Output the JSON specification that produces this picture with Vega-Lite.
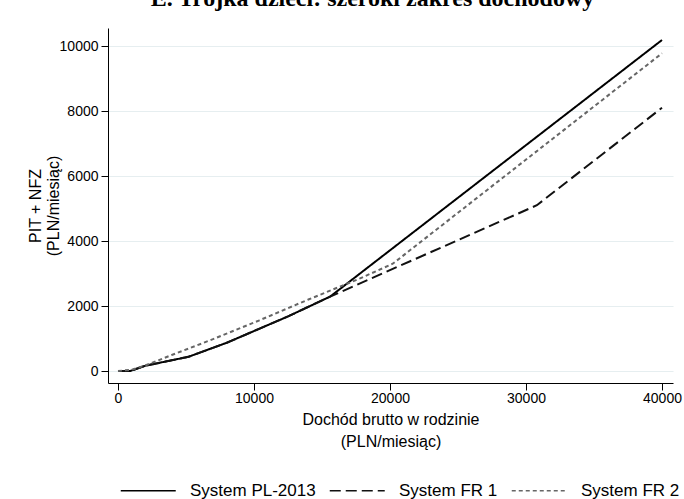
{
  "$schema": "https://vega.github.io/schema/vega-lite/v6.json",
  "autosize": "none",
  "width": 565,
  "height": 355,
  "padding": {"left": 108, "top": 28, "right": 11, "bottom": 116},
  "background": "white",
  "title": {
    "text": "E.  Trójka dzieci: szeroki zakres dochodowy",
    "font": "Liberation Serif",
    "fontSize": 24,
    "fontWeight": "bold",
    "color": "black",
    "anchor": "middle",
    "baseline": "alphabetic",
    "offset": 0,
    "dx": -18,
    "dy": 2
  },
  "config": {
    "view": {"stroke": null},
    "font": "Liberation Sans",
    "axis": {
      "domainColor": "black",
      "tickColor": "black",
      "labelColor": "black",
      "titleColor": "black",
      "labelFont": "Liberation Sans",
      "titleFont": "Liberation Sans",
      "labelFontSize": 14,
      "titleFontSize": 16,
      "titleFontWeight": "normal",
      "tickSize": 7,
      "gridColor": "#e6eef0",
      "gridWidth": 1.2,
      "gridOpacity": 1
    },
    "legend": {
      "labelFont": "Liberation Sans",
      "labelFontSize": 17,
      "labelColor": "black"
    }
  },
  "data": {
    "values": [
      {"system": "System PL-2013", "x": 0, "y": 0},
      {"system": "System PL-2013", "x": 900, "y": 0},
      {"system": "System PL-2013", "x": 2000, "y": 160},
      {"system": "System PL-2013", "x": 5200, "y": 440},
      {"system": "System PL-2013", "x": 8000, "y": 870},
      {"system": "System PL-2013", "x": 10500, "y": 1320},
      {"system": "System PL-2013", "x": 12500, "y": 1680},
      {"system": "System PL-2013", "x": 15600, "y": 2290},
      {"system": "System PL-2013", "x": 40000, "y": 10185},
      {"system": "System FR 1", "x": 0, "y": 0},
      {"system": "System FR 1", "x": 900, "y": 0},
      {"system": "System FR 1", "x": 2000, "y": 160},
      {"system": "System FR 1", "x": 5200, "y": 440},
      {"system": "System FR 1", "x": 8000, "y": 870},
      {"system": "System FR 1", "x": 10500, "y": 1320},
      {"system": "System FR 1", "x": 12500, "y": 1680},
      {"system": "System FR 1", "x": 15600, "y": 2290},
      {"system": "System FR 1", "x": 30800, "y": 5100},
      {"system": "System FR 1", "x": 40000, "y": 8100},
      {"system": "System FR 2", "x": 0, "y": 0},
      {"system": "System FR 2", "x": 1000, "y": 40},
      {"system": "System FR 2", "x": 2000, "y": 170},
      {"system": "System FR 2", "x": 4000, "y": 500},
      {"system": "System FR 2", "x": 6800, "y": 950},
      {"system": "System FR 2", "x": 10400, "y": 1560},
      {"system": "System FR 2", "x": 14000, "y": 2200},
      {"system": "System FR 2", "x": 17800, "y": 2850},
      {"system": "System FR 2", "x": 20200, "y": 3300},
      {"system": "System FR 2", "x": 40000, "y": 9775}
    ]
  },
  "mark": {"type": "line", "strokeWidth": 2},
  "encoding": {
    "x": {
      "field": "x",
      "type": "quantitative",
      "scale": {"domain": [-735, 40809], "nice": false, "zero": false},
      "axis": {
        "values": [0, 10000, 20000, 30000, 40000],
        "format": "d",
        "grid": false,
        "labelPadding": 1,
        "title": ["Dochód brutto w rodzinie", "(PLN/miesiąc)"],
        "titlePadding": 6,
        "titleLineHeight": 22
      }
    },
    "y": {
      "field": "y",
      "type": "quantitative",
      "scale": {"domain": [-369, 10554], "nice": false, "zero": false},
      "axis": {
        "values": [0, 2000, 4000, 6000, 8000, 10000],
        "format": "d",
        "grid": true,
        "labelPadding": 3,
        "title": ["PIT + NFZ", "(PLN/miesiąc)"],
        "titlePadding": -2,
        "titleLineHeight": 18
      }
    },
    "color": {
      "field": "system",
      "type": "nominal",
      "scale": {
        "domain": ["System PL-2013", "System FR 1", "System FR 2"],
        "range": ["#000000", "#111111", "#666666"]
      },
      "legend": {
        "title": null,
        "orient": "none",
        "direction": "horizontal",
        "legendX": 12,
        "legendY": 448,
        "symbolType": "M-1,0H3",
        "symbolSize": 756,
        "symbolStrokeWidth": 1.5,
        "labelOffset": 41,
        "columnPadding": 10,
        "encode": {"symbols": {"update": {"stroke": {"value": "#777777"}}}}
      }
    },
    "strokeDash": {
      "field": "system",
      "type": "nominal",
      "scale": {
        "domain": ["System PL-2013", "System FR 1", "System FR 2"],
        "range": [[1, 0], [11, 5], [4, 3]]
      },
      "legend": {
        "title": null,
        "orient": "none",
        "direction": "horizontal",
        "legendX": 12,
        "legendY": 448,
        "symbolType": "M-1,0H3",
        "symbolSize": 756,
        "symbolStrokeWidth": 1.5,
        "labelOffset": 41,
        "columnPadding": 10,
        "encode": {"symbols": {"update": {"stroke": {"value": "#777777"}}}}
      }
    }
  }
}
